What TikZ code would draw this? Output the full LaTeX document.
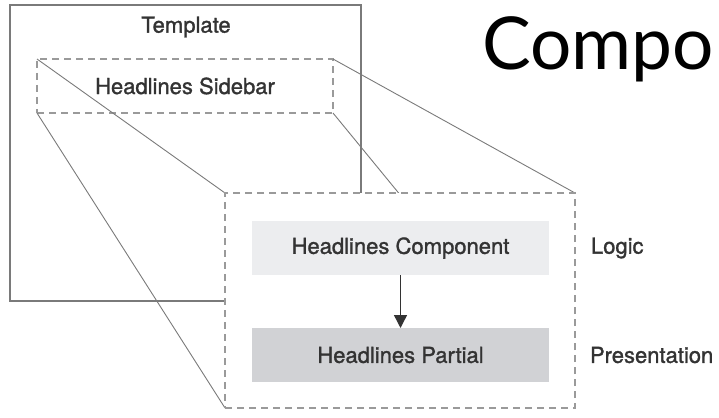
\documentclass[tikz,border=0pt]{standalone}
\usepackage{fontspec}
\setmainfont{TeX Gyre Heros}[FakeBold=1.3]
\newfontfamily\titlefont{Lato}
\usepackage{tikz}
\usetikzlibrary{arrows.meta}
\usetikzlibrary{positioning}

\definecolor{framegray}{HTML}{7A7A7A}
\definecolor{dashgray}{HTML}{9A9A9A}
\definecolor{lightfill}{HTML}{ECEDEF}
\definecolor{darkfill}{HTML}{D1D2D5}
\definecolor{textgray}{HTML}{333333}

\begin{document}
\begin{tikzpicture}[x=1pt,y=-1pt,node distance=107pt,on grid,
        every node/.style={outer sep=0pt,inner sep=0pt,text=textgray,font=\fontsize{22}{24}\selectfont},
        frame/.style={draw=framegray,line width=1.6pt},
        dashbox/.style={draw=dashgray,line width=1.5pt,dash pattern=on 7pt off 5pt},
        proj/.style={draw=framegray,line width=0.9pt},
        layer/.style={minimum width=297pt,minimum height=54pt}]
    \useasboundingbox (0,0) rectangle (719,417);
    % the page template
    \node[frame,minimum width=351pt,minimum height=296pt] (template) at (185.5,153) {};
    \node (templatetitle) at (186,27) {Template};
    \node[dashbox,minimum width=296pt,minimum height=54pt] (sidebar) at (185,86) {Headlines Sidebar};
    % projection onto the detail box
    \coordinate (zoomnw) at (225,193);
    \coordinate (zoomne) at (575,193);
    \coordinate (zoomsw) at (225,408);
    \coordinate (zoomse) at (575,408);
    \path[proj]
        (sidebar.north west) edge (zoomnw)
        (sidebar.north east) edge (zoomne)
        (sidebar.south west) edge (zoomsw)
        (sidebar.south east) edge (zoomse);
    \node[dashbox,fill=white,minimum width=350pt,minimum height=215pt] (zoombox) at (400,300.5) {};
    % component and partial
    \node[layer,fill=lightfill] (component) at (400.5,248) {Headlines Component};
    \node[layer,fill=darkfill,below=of component] (partial) {Headlines Partial};
    \draw[-{Triangle[length=13pt,width=13pt]},line width=1.4pt,textgray] (component) -- (partial);
    \node[anchor=west] (logic) at (591,248) {Logic};
    \node[anchor=west] (presentation) at (590,355) {Presentation};
    \node[anchor=base west,text=black,font=\titlefont\fontsize{73}{76}\selectfont] (heading) at (482,70) {Compo};
\end{tikzpicture}
\end{document}
